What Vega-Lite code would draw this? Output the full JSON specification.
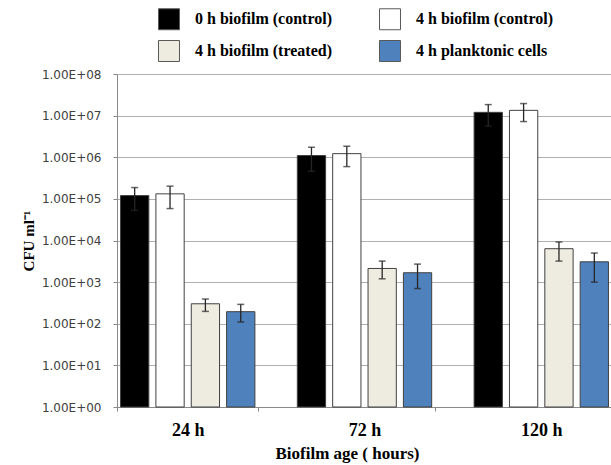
{
  "$schema": "https://vega.github.io/schema/vega-lite/v6.json",
  "width": 495,
  "height": 333,
  "autosize": "none",
  "padding": {"left": 117, "top": 74, "right": 0, "bottom": 58},
  "background": "white",
  "config": {"view": {"stroke": null}},
  "data": {
    "values": [
      {"age": "24 h", "group": "0 h biofilm (control)", "value": 120000, "lo": 53000, "hi": 187000},
      {"age": "24 h", "group": "4 h biofilm (control)", "value": 132000, "lo": 58500, "hi": 202000},
      {"age": "24 h", "group": "4 h biofilm (treated)", "value": 302, "lo": 198, "hi": 393},
      {"age": "24 h", "group": "4 h planktonic cells", "value": 195, "lo": 110, "hi": 292},
      {"age": "72 h", "group": "0 h biofilm (control)", "value": 1100000, "lo": 460000, "hi": 1740000},
      {"age": "72 h", "group": "4 h biofilm (control)", "value": 1220000, "lo": 596000, "hi": 1840000},
      {"age": "72 h", "group": "4 h biofilm (treated)", "value": 2130, "lo": 1200, "hi": 3200},
      {"age": "72 h", "group": "4 h planktonic cells", "value": 1680, "lo": 700, "hi": 2710},
      {"age": "120 h", "group": "0 h biofilm (control)", "value": 12000000, "lo": 5600000, "hi": 18400000},
      {"age": "120 h", "group": "4 h biofilm (control)", "value": 13400000, "lo": 7200000, "hi": 19500000},
      {"age": "120 h", "group": "4 h biofilm (treated)", "value": 6350, "lo": 3200, "hi": 9200},
      {"age": "120 h", "group": "4 h planktonic cells", "value": 3080, "lo": 1000, "hi": 5000}
    ]
  },
  "encoding": {
    "x": {
      "field": "age",
      "type": "nominal",
      "sort": ["24 h", "72 h", "120 h"],
      "scale": {"paddingInner": 0.2, "paddingOuter": 0},
      "axis": {
        "title": "Biofilm age ( hours)",
        "titleFont": "Liberation Serif",
        "titleFontWeight": "bold",
        "titleFontSize": 17,
        "titleColor": "black",
        "titlePadding": 6,
        "titleX": 230,
        "labelFont": "Liberation Serif",
        "labelFontWeight": "bold",
        "labelFontSize": 18,
        "labelColor": "black",
        "labelAngle": 0,
        "labelPadding": 10,
        "tickBand": "extent",
        "tickSize": 4,
        "tickColor": "#888888",
        "domainColor": "#888888",
        "grid": false
      }
    },
    "xOffset": {
      "field": "group",
      "type": "nominal",
      "sort": ["0 h biofilm (control)", "4 h biofilm (control)", "4 h biofilm (treated)", "4 h planktonic cells"],
      "scale": {"paddingInner": 0.2, "paddingOuter": 0.1}
    }
  },
  "layer": [
    {
      "mark": {"type": "bar", "stroke": "#404040", "strokeWidth": 1},
      "encoding": {
        "y": {
          "field": "value",
          "type": "quantitative",
          "scale": {"type": "log", "domain": [1, 100000000], "nice": false},
          "axis": {
            "values": [1, 10, 100, 1000, 10000, 100000, 1000000, 10000000, 100000000],
            "labelExpr": "'1.00E+0' + round(log(datum.value)/LN10)",
            "labelFont": "DejaVu Sans",
            "labelFontSize": 12,
            "labelColor": "#404040",
            "labelPadding": 12,
            "tickSize": 4,
            "tickColor": "#888888",
            "domainColor": "#888888",
            "grid": true,
            "gridColor": "#b0b0b0",
            "title": "CFU ml⁻¹",
            "titleFont": "Liberation Serif",
            "titleFontWeight": "bold",
            "titleFontSize": 15,
            "titleColor": "black",
            "titlePadding": 5
          }
        },
        "y2": {"datum": 1},
        "fill": {
          "field": "group",
          "type": "nominal",
          "scale": {
            "domain": ["0 h biofilm (control)", "4 h biofilm (treated)", "4 h biofilm (control)", "4 h planktonic cells"],
            "range": ["#000000", "#eeece1", "#ffffff", "#4f81bd"]
          },
          "legend": {
            "orient": "none",
            "legendX": 41,
            "legendY": -66,
            "columns": 2,
            "title": null,
            "padding": 0,
            "symbolType": "square",
            "symbolSize": 440,
            "symbolStrokeColor": "#595959",
            "symbolStrokeWidth": 1,
            "symbolOpacity": 1,
            "labelFont": "Liberation Serif",
            "labelFontWeight": "bold",
            "labelFontSize": 16,
            "labelColor": "black",
            "labelOffset": 15,
            "labelLimit": 300,
            "columnPadding": 44,
            "rowPadding": 6
          }
        }
      }
    },
    {
      "mark": {"type": "rule", "color": "#262626", "strokeWidth": 1.3},
      "encoding": {
        "y": {"field": "lo", "type": "quantitative", "scale": {"type": "log", "domain": [1, 100000000], "nice": false}, "axis": {"title": "CFU ml⁻¹"}},
        "y2": {"field": "hi"}
      }
    },
    {
      "mark": {"type": "tick", "color": "#262626", "size": 7, "thickness": 1.5},
      "encoding": {
        "y": {"field": "hi", "type": "quantitative", "scale": {"type": "log", "domain": [1, 100000000], "nice": false}, "axis": {"title": "CFU ml⁻¹"}}
      }
    },
    {
      "mark": {"type": "tick", "color": "#262626", "size": 7, "thickness": 1.5},
      "encoding": {
        "y": {"field": "lo", "type": "quantitative", "scale": {"type": "log", "domain": [1, 100000000], "nice": false}, "axis": {"title": "CFU ml⁻¹"}}
      }
    }
  ]
}
